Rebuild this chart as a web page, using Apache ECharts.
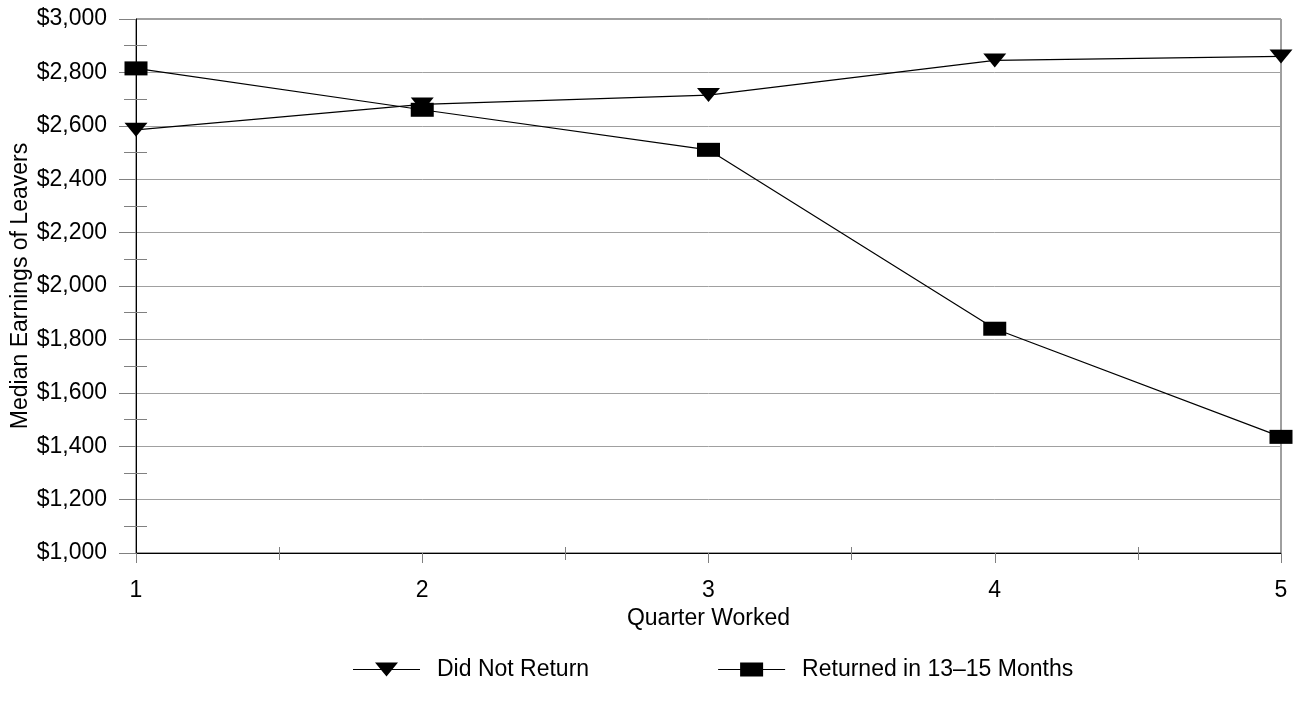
<!DOCTYPE html>
<html>
<head>
<meta charset="utf-8">
<script src="https://cdn.jsdelivr.net/npm/echarts@6/dist/echarts.min.js"></script>
<style>
html,body{margin:0;padding:0;background:#fff;}
#chart{width:1293px;height:708px;}
</style>
</head>
<body>
<div id="chart"></div>
<script>
const quarters = [1, 2, 3, 4, 5];
const didNotReturn = [2585, 2680, 2715, 2845, 2860];
const returned1315 = [2815, 2660, 2510, 1840, 1435];
const seriesNames = ['Did Not Return', 'Returned in 13\u201315 Months'];
const yTickFormat = v => '$' + v.toLocaleString('en-US');

const FONT = 'Liberation Sans, Arial, sans-serif';
const FS = 23;

const triIcon = 'path://M0,6.5 L67,6.5 L67,7.5 L0,7.5 Z M22,0 L45,0 L33.5,14 Z';
const rectIcon = 'path://M0,6.5 L67,6.5 L67,7.5 L0,7.5 Z M22,0 L45,0 L45,14 L22,14 Z';

const chart = echarts.init(document.getElementById('chart'), null, {renderer: 'canvas'});

const pairs = arr => quarters.map((q, i) => [q, arr[i]]);

const option = {
  animation: false,
  backgroundColor: '#ffffff',
  textStyle: {fontFamily: FONT},
  grid: {
    left: 136, top: 19, right: 12, bottom: 155,
    containLabel: false, outerBoundsMode: 'none',
    show: true, borderColor: '#404040', borderWidth: 1,
    backgroundColor: 'transparent'
  },
  legend: {
    left: 353, top: 658, padding: 0,
    itemWidth: 67, itemHeight: 14, itemGap: 129,
    textStyle: {fontFamily: FONT, fontSize: FS, color: '#000', padding: [0, 0, 0, 12]},
    data: [
      {name: seriesNames[0], icon: triIcon, itemStyle: {color: '#000'}},
      {name: seriesNames[1], icon: rectIcon, itemStyle: {color: '#000'}}
    ]
  },
  xAxis: [{
    type: 'value', min: 1, max: 5, interval: 1,
    name: 'Quarter Worked', nameLocation: 'middle', nameGap: 54,
    nameMoveOverlap: false,
    nameTextStyle: {fontFamily: FONT, fontSize: FS, color: '#000'},
    axisLine: {show: true, onZero: false, lineStyle: {color: '#000', width: 1}},
    axisTick: {show: true, length: 10, lineStyle: {color: '#808080'}},
    minorTick: {show: true, splitNumber: 2, length: 7, lineStyle: {color: '#808080'}},
    axisLabel: {fontFamily: FONT, fontSize: FS, color: '#000', margin: 26},
    splitLine: {show: false}
  }, {
    type: 'value', min: 1, max: 5, interval: 1, position: 'bottom',
    axisLine: {show: false, onZero: false},
    axisTick: {show: false, inside: true},
    minorTick: {show: true, splitNumber: 2, length: 6, lineStyle: {color: '#808080'}},
    axisLabel: {show: false},
    splitLine: {show: false}
  }],
  yAxis: [{
    type: 'value', min: 1000, max: 3000, interval: 200,
    name: 'Median Earnings of Leavers', nameLocation: 'middle', nameGap: 104,
    nameMoveOverlap: false,
    nameTextStyle: {fontFamily: FONT, fontSize: FS, color: '#000'},
    axisLine: {show: true, onZero: false, lineStyle: {color: '#000', width: 1}},
    axisTick: {show: true, length: 17, lineStyle: {color: '#808080'}},
    minorTick: {show: true, splitNumber: 2, length: 12, lineStyle: {color: '#808080'}},
    axisLabel: {fontFamily: FONT, fontSize: FS, color: '#000', margin: 29, formatter: yTickFormat},
    splitLine: {show: true, lineStyle: {color: '#a0a0a0', width: 1}}
  }, {
    type: 'value', min: 1000, max: 3000, interval: 200, position: 'left',
    axisLine: {show: false, onZero: false},
    axisTick: {show: false, inside: true},
    minorTick: {show: true, splitNumber: 2, length: 11, lineStyle: {color: '#808080'}},
    axisLabel: {show: false},
    splitLine: {show: false}
  }],
  series: [{
    name: seriesNames[0], type: 'line',
    data: pairs(didNotReturn),
    symbol: 'path://M0,0 L10,0 L5,6 Z', symbolSize: [23, 14],
    lineStyle: {color: '#000', width: 1.2},
    itemStyle: {color: '#000'},
    z: 3
  }, {
    name: seriesNames[1], type: 'line',
    data: pairs(returned1315),
    symbol: 'rect', symbolSize: [23, 14],
    lineStyle: {color: '#000', width: 1.2},
    itemStyle: {color: '#000'},
    z: 4
  }]
};

chart.setOption(option);
</script>
</body>
</html>
